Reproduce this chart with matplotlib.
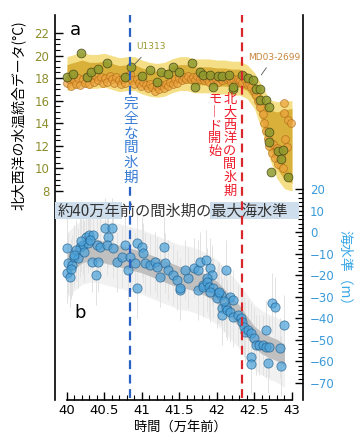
import matplotlib
matplotlib.use("Agg")
import matplotlib.pyplot as plt
from matplotlib.ticker import FixedLocator
import numpy as np

JP = ['Noto Sans CJK JP', 'DejaVu Sans']
plt.rcParams['font.family'] = ['DejaVu Sans', 'Noto Sans CJK JP']

# ---- panel a : North Atlantic SST stack ----
band_a_x = [40.0, 40.1, 40.2, 40.3, 40.4, 40.5, 40.6, 40.7, 40.8, 40.9, 41.0,
            41.1, 41.2, 41.3, 41.4, 41.5, 41.6, 41.7, 41.8, 41.9, 42.0,
            42.1, 42.2, 42.3, 42.4, 42.5, 42.6, 42.7, 42.8, 42.9, 43.0]
band_a_mean = [18.4, 18.6, 18.8, 18.6, 18.6, 18.7, 18.5, 18.3, 18.4, 18.4, 18.1,
               17.9, 17.8, 17.9, 18.2, 18.4, 18.4, 18.2, 18.2, 18.2, 18.1,
               18.1, 18.0, 18.0, 17.7, 16.9, 15.3, 13.5, 12.5, 12.1, 12.0]
band_a_inner = [0.8] * 24 + [0.8, 0.9, 1.2, 1.7, 2.5, 3.1, 3.3]
band_a_outer = [1.5] * 24 + [1.5, 1.6, 2.0, 2.6, 3.4, 3.9, 4.0]

u1313_x = [40.0, 40.08, 40.19, 40.27, 40.32, 40.41, 40.54, 40.78, 40.86, 41.0,
           41.11, 41.2, 41.26, 41.35, 41.41, 41.49, 41.67, 41.71, 41.78, 41.82,
           41.91, 41.95, 42.01, 42.07, 42.16, 42.21, 42.22, 42.34, 42.41, 42.48,
           42.52, 42.58, 42.58, 42.65, 42.69, 42.7, 42.69, 42.81, 42.88, 42.85,
           42.72, 42.95]
u1313_t = [18.1, 18.4, 20.2, 18.1, 18.5, 18.8, 19.3, 18.1, 19.0, 18.2,
           18.7, 17.7, 18.5, 18.4, 19.0, 18.5, 19.3, 17.2, 18.5, 18.3,
           18.3, 17.2, 18.2, 18.2, 18.3, 17.0, 17.2, 18.3, 18.0, 17.8,
           17.0, 17.0, 16.1, 16.1, 15.4, 13.2, 12.3, 11.5, 11.6, 10.8,
           9.7, 9.2]

md_x = [40.0, 40.03, 40.06, 40.09, 40.12, 40.15, 40.18, 40.21, 40.24, 40.27,
        40.3, 40.33, 40.36, 40.39, 40.42, 40.45, 40.48, 40.51, 40.54, 40.57,
        40.6, 40.63, 40.66, 40.69, 40.72, 40.75, 40.78, 40.81, 40.84, 40.87,
        40.9, 40.93, 40.96, 40.99, 41.02, 41.05, 41.08, 41.11, 41.14, 41.17,
        41.2, 41.23, 41.26, 41.29, 41.32, 41.35, 41.38, 41.41, 41.44, 41.47,
        41.5, 41.53, 41.56, 41.59, 41.62, 41.65, 41.68, 41.71, 41.74, 41.77,
        41.8, 41.83, 41.86, 41.89, 41.92, 41.95, 41.98, 42.01, 42.04, 42.07,
        42.1, 42.13, 42.16, 42.19, 42.22, 42.25, 42.28, 42.31, 42.34, 42.37,
        42.4, 42.43, 42.46, 42.49, 42.52, 42.55, 42.58, 42.61, 42.63, 42.66,
        42.68, 42.7, 42.73, 42.75, 42.78, 42.8, 42.82, 42.85, 42.88, 42.91,
        42.93, 42.89, 42.95, 42.99, 42.9]
md_t = [17.6, 17.9, 17.3, 17.8, 17.5, 18.0, 17.4, 17.9, 17.6, 18.1,
        17.5, 18.0, 17.7, 18.2, 17.8, 18.1, 17.6, 18.0, 17.7, 18.2,
        17.9, 17.6, 18.1, 17.8, 17.5, 17.9, 17.6, 18.2, 18.4, 17.8,
        17.5, 17.9, 17.6, 17.3, 17.7, 17.4, 17.1, 17.5, 17.2, 16.9,
        17.3, 17.0, 17.4, 17.1, 17.5, 17.3, 17.7, 17.5, 17.9, 17.6,
        18.0, 17.8, 18.1, 17.9, 18.2, 17.9, 18.1, 17.8, 18.2, 17.9,
        18.1, 17.8, 18.0, 17.7, 18.1, 17.8, 18.0, 17.7, 18.0, 17.8,
        18.1, 17.9, 18.0, 17.7, 17.9, 17.6, 17.9, 17.8, 17.6, 17.9,
        17.5, 17.6, 17.2, 16.9, 16.5, 16.0, 15.4, 14.8, 14.0, 13.3,
        12.6, 12.0, 11.4, 12.2, 10.9, 11.8, 10.4, 11.3, 10.0, 12.6,
        11.9, 15.8, 14.3, 14.0, 14.9]

# ---- panel b : sea level ----
band_b_x = [40.0, 40.1, 40.2, 40.3, 40.4, 40.5, 40.6, 40.7, 40.8, 40.9, 41.0,
            41.1, 41.2, 41.3, 41.4, 41.5, 41.6, 41.7, 41.8, 41.9, 42.0,
            42.1, 42.2, 42.3, 42.4, 42.5, 42.6, 42.7, 42.8, 42.9]
band_b_mean = [-15.3, -12.0, -9.3, -8.3, -8.3, -9.3, -10.2, -11.1, -12.0, -13.0, -13.9,
               -15.3, -16.7, -18.1, -19.5, -20.9, -21.3, -22.3, -23.7, -25.5, -27.8,
               -31.5, -35.3, -39.0, -44.0, -48.7, -51.5, -53.3, -54.7, -57.0]
band_b_inner = [5.0] * 30
band_b_outer = [15.0] * 30

sl_x = [40.0, 40.01, 40.0, 40.04, 40.07, 40.09, 40.17, 40.15, 40.21, 40.25,
        40.29, 40.35, 40.28, 40.4, 40.44, 40.33, 40.41, 40.39, 40.51, 40.6,
        40.55, 40.54, 40.62, 40.67, 40.74, 40.78, 40.84, 40.82, 40.91, 40.94,
        41.0, 41.02, 40.94, 41.04, 41.11, 41.18, 41.2, 41.29, 41.31, 41.35,
        41.24, 41.41, 41.47, 41.51, 41.51, 41.69, 41.62, 41.58, 41.75, 41.78,
        41.85, 41.91, 41.94, 41.87, 41.75, 41.81, 41.82, 41.87, 41.9, 41.95,
        42.01, 41.91, 42.05, 42.12, 42.18, 42.22, 42.07, 42.07, 42.12, 42.14,
        42.18, 42.22, 42.28, 42.32, 42.34, 42.36, 42.38, 42.42, 42.45, 42.49,
        42.52, 42.56, 42.61, 42.65, 42.69, 42.65, 42.45, 42.46, 42.68, 42.74,
        42.78, 42.84, 42.85, 42.9, 40.12, 40.19, 40.23, 40.31, 40.05, 40.1,
        42.0, 42.03, 42.1]
sl_y = [-7.4, -14.4, -19.0, -20.9, -15.3, -11.6, -7.0, -12.0, -6.0, -2.3,
        -1.4, -1.4, -5.1, -6.0, -7.0, -13.9, -13.9, -20.0, 1.9, 1.9,
        -2.3, -6.0, -7.4, -14.0, -11.6, -6.0, -11.6, -17.6, -14.4, -5.1,
        -7.0, -9.7, -26.0, -14.4, -15.3, -13.9, -16.2, -7.0, -14.4, -17.6,
        -20.9, -20.0, -22.3, -27.0, -26.0, -16.7, -21.3, -17.6, -17.6, -13.9,
        -13.0, -16.7, -20.0, -21.3, -27.0, -24.6, -25.5, -23.2, -25.5, -26.0,
        -28.3, -27.8, -29.2, -17.6, -30.2, -31.5, -35.3, -38.5, -34.8, -36.2,
        -37.1, -39.4, -38.5, -39.9, -41.7, -44.0, -46.4, -45.5, -46.8, -49.2,
        -52.4, -52.4, -52.4, -53.3, -53.3, -45.5, -58.0, -61.2, -60.8, -33.0,
        -34.8, -53.8, -62.2, -43.1, -8.5, -4.0, -9.0, -3.5, -17.0, -10.5,
        -30.5, -28.0, -32.0]

xticks = [40, 40.5, 41, 41.5, 42, 42.5, 43]
xtick_labels = ['40', '40.5', '41', '41.5', '42', '42.5', '43']
t_ticks = [8, 10, 12, 14, 16, 18, 20, 22]
sl_ticks = [-70, -60, -50, -40, -30, -20, -10, 0, 10, 20]


def vtext(axis, x, y, s, size, pitch, color, **kw):
    # stack characters top to bottom (vertical writing)
    for i, ch in enumerate(s):
        axis.annotate(ch, xy=(x, y), xytext=(0, -i * pitch), textcoords='offset points',
                      fontsize=size, family=JP, color=color, ha='center', va='center',
                      annotation_clip=False, **kw)


fig = plt.figure(figsize=(3.63, 4.42), dpi=100)
ax = fig.add_axes([0.1515, 0.095, 0.6832, 0.871])
ax2 = ax.twinx()

ax.set_xlim(39.84, 43.147)
ax.set_ylim(-10.52, 23.59)
ax2.set_ylim(-77.89, 100.72)

# panel a
bx = np.array(band_a_x)
bm = np.array(band_a_mean)
ax.fill_between(bx, bm - np.array(band_a_outer), bm + np.array(band_a_outer),
                color='#f5df86', lw=0, zorder=1)
ax.fill_between(bx, bm - np.array(band_a_inner), bm + np.array(band_a_inner),
                color='#d9b03a', lw=0, zorder=2)
ax.scatter(md_x, md_t, s=32, c='#eba23c', edgecolors='#b06a18', linewidths=0.6,
           alpha=0.7, zorder=3)
ax.scatter(u1313_x, u1313_t, s=40, c='#8e9a2e', edgecolors='#4a4a18', linewidths=0.6,
           alpha=0.85, zorder=4)

ax.text(40.11, 22.3, 'a', fontsize=13, ha='center', va='center')
ax.annotate('U1313', xy=(40.88, 19.08), xytext=(41.12, 20.76), fontsize=6.5,
            color='#9a9a30', ha='center', va='center',
            arrowprops=dict(arrowstyle='-', color='#555555', lw=0.6, shrinkA=3, shrinkB=0))
ax.annotate('MD03-2699', xy=(42.59, 18.28), xytext=(42.76, 19.87), fontsize=6.5,
            color='#c8843c', ha='center', va='center',
            arrowprops=dict(arrowstyle='-', color='#555555', lw=0.6, shrinkA=3, shrinkB=0))

# panel b
sx = np.array(band_b_x)
sm = np.array(band_b_mean)
ax2.fill_between(sx, sm - np.array(band_b_outer), sm + np.array(band_b_outer),
                 color='#f1f1f1', lw=0, zorder=1)
ax2.errorbar(sl_x, sl_y, yerr=14, fmt='none', ecolor='#e2e2e2', elinewidth=0.7, zorder=1.5)
ax2.fill_between(sx, sm - np.array(band_b_inner), sm + np.array(band_b_inner),
                 color='#c0c0c0', lw=0, zorder=2)
ax2.scatter(sl_x, sl_y, s=44, c='#4ba2da', edgecolors='#1c5a88', linewidths=0.6,
            alpha=0.7, zorder=3)
ax2.text(40.17, -37.6, 'b', fontsize=13, ha='center', va='center')

# highest sea level strip
ax2.fill_between([39.84, 40.73], 6.0, 13.9, color='#cfdeec', lw=0, zorder=4)
ax2.fill_between([41.91, 43.1], 6.0, 13.9, color='#cfdeec', lw=0, zorder=4)
ax2.text(39.88, 10.0, '約40万年前の間氷期の最大海水準', fontsize=11, family=JP,
         color='#333333', ha='left', va='center', zorder=5)

# dashed markers
ax2.axvline(40.84, ymin=0.005, ymax=1, color='#2a62c4', lw=1.6, ls=(0, (4, 2.5)), zorder=6)
ax2.axvline(42.34, ymin=0.005, ymax=1, color='#d8262a', lw=1.6, ls=(0, (4, 2.5)), zorder=6)
vtext(ax2, 40.85, 59.4, '完全な間氷期', 10.5, 10.6, '#3b7fd6',
      bbox=dict(facecolor='white', edgecolor='none', pad=0.3), zorder=7)
vtext(ax2, 42.17, 61.5, '北大西洋の間氷期', 9.5, 9.4, '#ee1c2c', zorder=7)
vtext(ax2, 41.97, 61.5, ['モ', '︱', 'ド', '開', '始'], 9.5, 9.4, '#ee1c2c', zorder=7)

# axes styling
for a in (ax, ax2):
    a.spines['top'].set_visible(False)
    a.patch.set_visible(False)
ax2.spines['bottom'].set_visible(False)
ax2.spines['left'].set_visible(False)
ax.spines['right'].set_visible(False)
ax.spines['bottom'].set_bounds(40, 43)
for s in ('left', 'bottom'):
    ax.spines[s].set_linewidth(1.2)
ax2.spines['right'].set_linewidth(1.2)

ax.set_xticks(xticks)
ax.set_xticklabels(xtick_labels)
ax.xaxis.set_minor_locator(FixedLocator(np.arange(40, 43.001, 0.1)))
ax.tick_params(axis='x', which='major', direction='in', length=6, width=1, labelsize=9.5, pad=3)
ax.tick_params(axis='x', which='minor', direction='in', length=3.5, width=0.8)

ax.set_yticks(t_ticks)
ax.yaxis.set_minor_locator(FixedLocator(np.arange(8, 22.001, 0.5)))
ax.tick_params(axis='y', which='major', direction='in', length=6, width=1, labelsize=8.5,
               labelcolor='#8d8d2c', pad=4)
ax.tick_params(axis='y', which='minor', direction='in', length=3.5, width=0.8)

ax2.set_yticks(sl_ticks)
ax2.yaxis.set_minor_locator(FixedLocator(np.arange(-70, 20.001, 2)))
ax2.tick_params(axis='y', which='major', direction='in', length=6, width=1, labelsize=8.5,
                labelcolor='#3a9ad9', pad=5)
ax2.tick_params(axis='y', which='minor', direction='in', length=3.5, width=0.8)

fig.text(18 / 363, 1 - 115 / 442, '北大西洋の水温統合データ(°C)', rotation=90, fontsize=10,
         family=JP, ha='center', va='center')
fig.text(345 / 363, 1 - 271 / 442, '海水準（m）', rotation=270, fontsize=10,
         family=JP, color='#3aa8e8', ha='center', va='center')
fig.text(180 / 363, 1 - 427 / 442, '時間（万年前）', fontsize=9.5, family=JP,
         ha='center', va='center')

fig.savefig('out.png', dpi=100)
